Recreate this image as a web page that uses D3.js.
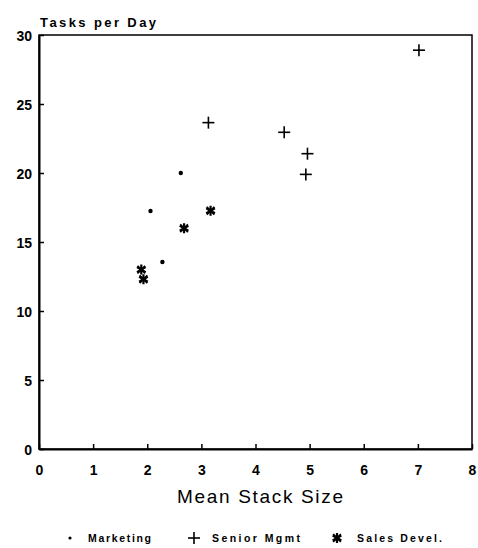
<!DOCTYPE html>
<html>
<head>
<meta charset="utf-8">
<script src="https://cdn.jsdelivr.net/npm/d3@7"></script>
<style>
  body { margin: 0; background: #fff; }
  text { font-family: "Liberation Sans", Arial, sans-serif; fill: #000; }
</style>
</head>
<body>
<div id="chart"></div>
<script>
// data
const marketing = [
  { x: 2.62, y: 20.0 },
  { x: 2.06, y: 17.25 },
  { x: 2.28, y: 13.55 },
];
const seniorMgmt = [
  { x: 3.13, y: 23.65 },
  { x: 4.53, y: 22.95 },
  { x: 7.02, y: 28.9 },
  { x: 4.96, y: 21.4 },
  { x: 4.93, y: 19.9 },
];
const salesDevel = [
  { x: 3.17, y: 17.27 },
  { x: 2.68, y: 16.0 },
  { x: 1.89, y: 13.0 },
  { x: 1.93, y: 12.3 },
];
const xTicks = [0, 1, 2, 3, 4, 5, 6, 7, 8];
const yTicks = [0, 5, 10, 15, 20, 25, 30];
const seriesNames = ["Marketing", "Senior Mgmt", "Sales Devel."];

const width = 478, height = 548;
const margin = { top: 35, right: 6, bottom: 99, left: 39 };

const svg = d3.select("#chart").append("svg")
  .attr("width", width)
  .attr("height", height);

const x = d3.scaleLinear().domain([0, 8]).range([margin.left, width - margin.right]);
const y = d3.scaleLinear().domain([0, 30]).range([height - margin.bottom, margin.top]);

// frame
svg.append("rect")
  .attr("x", x(0)).attr("y", y(30))
  .attr("width", x(8) - x(0)).attr("height", y(0) - y(30))
  .attr("fill", "none").attr("stroke", "#000").attr("stroke-width", 1.5);

// axes with inward ticks
const xAxis = svg.append("g")
  .attr("transform", `translate(0,${y(0)})`)
  .call(d3.axisBottom(x).tickValues(xTicks).tickSizeInner(-5).tickSizeOuter(0).tickPadding(16));
const yAxis = svg.append("g")
  .attr("transform", `translate(${x(0)},0)`)
  .call(d3.axisLeft(y).tickValues(yTicks).tickSizeInner(-5).tickSizeOuter(0).tickPadding(7));

[xAxis, yAxis].forEach((g) => {
  g.select(".domain").attr("stroke-width", 2);
  g.selectAll(".tick line").attr("stroke-width", 1.5);
  g.selectAll(".tick text")
    .style("font-family", "'Liberation Sans', Arial, sans-serif")
    .style("font-size", "14px")
    .style("font-weight", "bold");
});
yAxis.selectAll(".tick text").attr("dy", "0.4em");

// titles
svg.append("text")
  .attr("x", 40).attr("y", 27)
  .attr("textLength", 116).attr("lengthAdjust", "spacing")
  .style("font-size", "13px").style("font-weight", "bold")
  .text("Tasks per Day");

svg.append("text")
  .attr("x", 177).attr("y", 503)
  .attr("textLength", 166).attr("lengthAdjust", "spacing")
  .style("font-size", "19px")
  .text("Mean Stack Size");

// markers
const times = d3.symbol().type(d3.symbolTimes).size(40);

function drawMarker(g, kind) {
  if (kind === 0) {
    g.append("circle").attr("r", 2.2).attr("fill", "#000");
  } else if (kind === 1) {
    g.append("line").attr("x1", -6).attr("x2", 6).attr("stroke", "#000").attr("stroke-width", 1.6);
    g.append("line").attr("y1", -6).attr("y2", 6).attr("stroke", "#000").attr("stroke-width", 1.6);
  } else {
    g.append("path").attr("d", d3.symbol().type(d3.symbolAsterisk).size(70)())
      .attr("fill", "none").attr("stroke", "#000").attr("stroke-width", 2.2);
    g.append("path").attr("d", times())
      .attr("fill", "none").attr("stroke", "#000").attr("stroke-width", 1.8);
  }
}

[marketing, seniorMgmt, salesDevel].forEach((series, i) => {
  series.forEach((d) => {
    const g = svg.append("g").attr("transform", `translate(${x(d.x)},${y(d.y)})`);
    drawMarker(g, i);
  });
});

// legend
const legendItems = [
  { marker: 70, label: 88, len: 63 },
  { marker: 194, label: 212, len: 88 },
  { marker: 337, label: 357, len: 85 },
];
legendItems.forEach((it, i) => {
  const g = svg.append("g").attr("transform", `translate(${it.marker},538)`);
  drawMarker(g, i);
  if (i === 0) g.select("circle").attr("r", 1.6);
  svg.append("text")
    .attr("x", it.label).attr("y", 542)
    .attr("textLength", it.len).attr("lengthAdjust", "spacing")
    .style("font-size", "10.5px").style("font-weight", "bold")
    .text(seriesNames[i]);
});
</script>
</body>
</html>
